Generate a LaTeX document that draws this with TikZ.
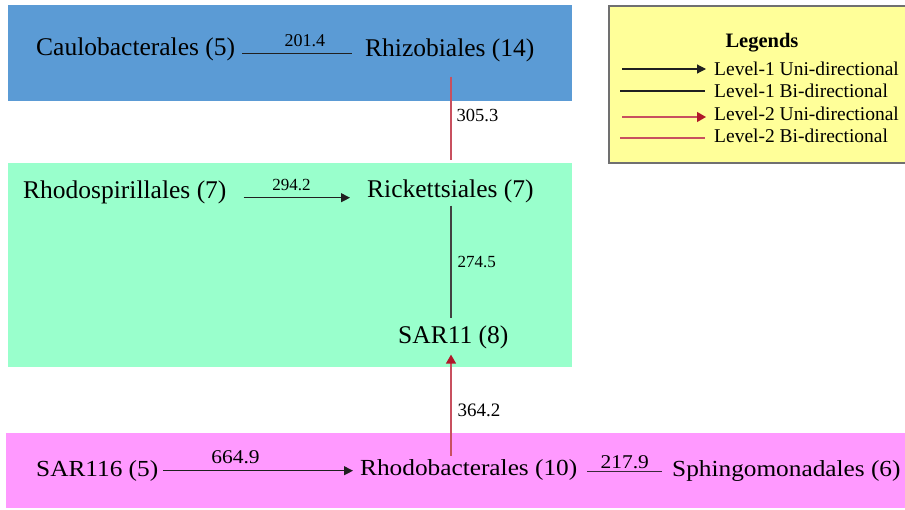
\documentclass[tikz,border=0pt]{standalone}
\usepackage{fontspec}
\setmainfont{Liberation Serif}
\newfontfamily\widefont[FakeStretch=1.1]{Liberation Serif}
\usetikzlibrary{arrows.meta}

\definecolor{bandblue}{HTML}{5B9BD5}
\definecolor{bandgreen}{HTML}{99FFCC}
\definecolor{bandpink}{HTML}{FF99FF}
\definecolor{legendyellow}{HTML}{FFFF99}
\definecolor{legendframe}{HTML}{707070}
\definecolor{lvoneline}{HTML}{202020}
\definecolor{lvtwoline}{HTML}{C8505F}
\definecolor{lvtwohead}{HTML}{B0182A}

\tikzset{
  taxon/.style={anchor=base west, inner sep=0pt, font=\fontsize{25.5}{30}\selectfont},
  taxonlow/.style={anchor=base west, inner sep=0pt, font=\widefont\fontsize{23}{28}\selectfont},
  weight/.style={inner sep=0pt, font=\fontsize{18}{21}\selectfont},
  weightlow/.style={inner sep=0pt, font=\widefont\fontsize{19.5}{23}\selectfont},
  legtext/.style={anchor=base west, inner sep=0pt, font=\fontsize{19.5}{23}\selectfont},
  lvone/.style={draw=lvoneline, line width=1.15pt},
  lvonearrow/.style={lvone, -{Triangle[length=9pt,width=9pt]}},
  lvtwo/.style={draw=lvtwoline, line width=1.3pt},
  lvtwoarrow/.style={lvtwo, -{Triangle[length=9pt,width=10pt,color=lvtwohead]}}
}

\begin{document}
\begin{tikzpicture}[x=1pt, y=-1pt]
  \useasboundingbox (0,0) rectangle (905,509);

  % coloured bands
  \fill[bandblue]  (8,5)   rectangle (572,101);
  \fill[bandgreen] (8,163) rectangle (572,367);
  \fill[bandpink]  (6,433) rectangle (905,508);

  % legend panel
  \draw[legendframe, line width=2pt, fill=legendyellow] (609,6) rectangle (910,163);
  \node[inner sep=0pt, anchor=base, font=\bfseries\fontsize{20.5}{24}\selectfont] (legtitle) at (762,47) {Legends};
  \coordinate (la1) at (622,69);  \coordinate (lb1) at (706,69);
  \coordinate (la2) at (620,91);  \coordinate (lb2) at (705,91);
  \coordinate (la3) at (622,117); \coordinate (lb3) at (706,117);
  \coordinate (la4) at (620,138); \coordinate (lb4) at (705,138);
  \draw[lvonearrow] (la1) -- (lb1);
  \draw[lvone] (la2) -- (lb2);
  \draw[lvtwoarrow] (la3) -- (lb3);
  \draw[lvtwo] (la4) -- (lb4);
  \node[legtext] (leg1) at (714,75)  {Level-1 Uni-directional};
  \node[legtext] (leg2) at (714,97)  {Level-1 Bi-directional};
  \node[legtext] (leg3) at (714,120) {Level-2 Uni-directional};
  \node[legtext] (leg4) at (714,142) {Level-2 Bi-directional};

  % vertical axis shared by the stacked taxa
  \coordinate (axis) at (451,0);

  % top band
  \node[taxon] (caulo) at (36,55)  {Caulobacterales (5)};
  \node[taxon] (rhizo) at (365,56) {Rhizobiales (14)};

  % middle band
  \node[taxon] (rhodosp) at (23,198)  {Rhodospirillales (7)};
  \node[taxon] (rick)    at (367,197) {Rickettsiales (7)};
  \node[taxon] (sareleven) at (398,343) {SAR11 (8)};

  % bottom band
  \node[taxonlow] (sarsixteen) at (36,476)  {SAR116 (5)};
  \node[taxonlow] (rhodob)     at (360,475) {Rhodobacterales (10)};
  \node[taxonlow] (sphingo)    at (672,476) {Sphingomonadales (6)};

  % links (yshift is in page direction: positive moves up)
  \draw[lvone] ([xshift=7pt,yshift=-1pt]caulo.mid east) -- ([xshift=-13pt,yshift=-1pt]caulo.mid east -| rhizo.west)
    node[weight, pos=0.57, above=6pt] {201.4};

  \draw[lvtwo] ([yshift=-15pt]axis |- rhizo.south) -- ([yshift=19pt]axis |- rick.north)
    node[weight, pos=0.47, right=5pt, font=\fontsize{18.5}{22}\selectfont] {305.3};

  \draw[lvonearrow] ([xshift=17pt,yshift=-2pt]rhodosp.mid east) -- ([xshift=-17pt,yshift=-2pt]rhodosp.mid east -| rick.west)
    node[weight, pos=0.45, above=6pt, font=\fontsize{17}{20}\selectfont] {294.2};

  \draw[draw=lvoneline!85, line width=1.15pt] ([yshift=-3pt]axis |- rick.south) -- ([yshift=7pt]axis |- sareleven.north)
    node[weight, midway, right=6pt, font=\fontsize{17}{20}\selectfont] {274.5};

  \draw[lvtwoarrow] ([yshift=3pt]axis |- rhodob.north) -- ([yshift=-6pt]axis |- sareleven.south)
    node[weight, pos=0.45, right=6pt, font=\fontsize{19}{22}\selectfont] {364.2};

  \draw[lvonearrow] ([xshift=5pt,yshift=3pt]sarsixteen.mid east) -- ([xshift=-7pt,yshift=3pt]sarsixteen.mid east -| rhodob.west)
    node[weightlow, pos=0.38, above=6pt] {664.9};

  \draw[draw=lvoneline!70!bandpink!60!black, line width=1.15pt] ([xshift=10pt,yshift=1pt]rhodob.mid east) -- ([xshift=-10pt,yshift=1pt]rhodob.mid east -| sphingo.west)
    node[weightlow, midway, above=2pt] {217.9};
\end{tikzpicture}
\end{document}
